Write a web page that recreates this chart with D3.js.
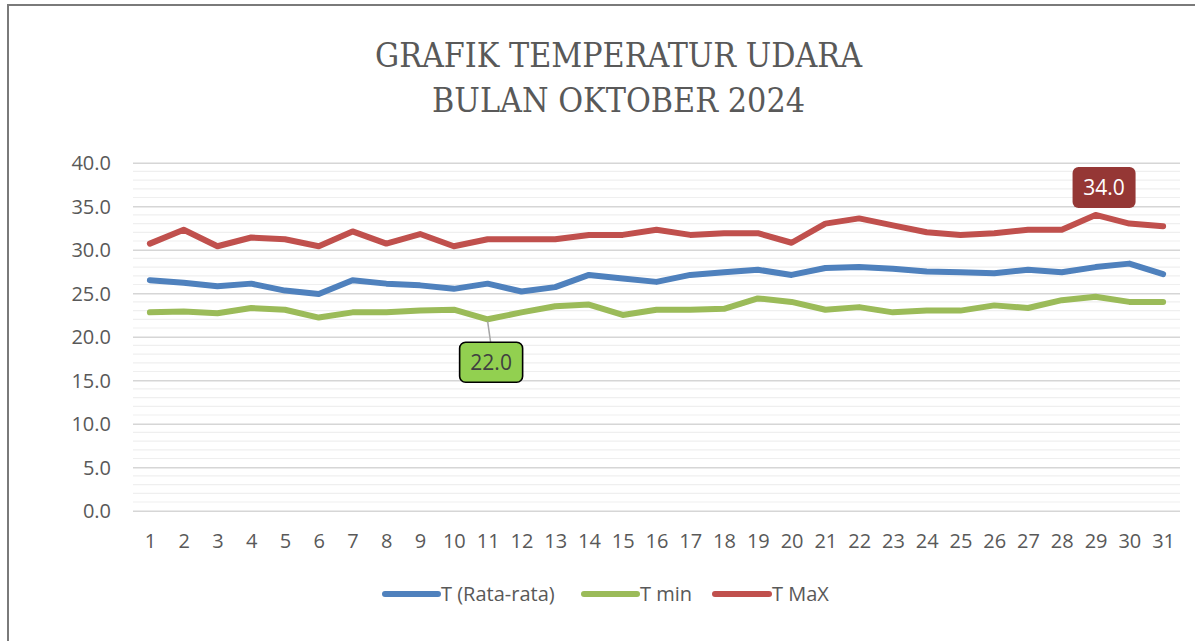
<!DOCTYPE html>
<html>
<head>
<meta charset="utf-8">
<script src="https://cdn.jsdelivr.net/npm/d3@7"></script>
<style>
  html, body { margin: 0; padding: 0; background: #fff; }
  svg { display: block; }
</style>
</head>
<body>
<svg id="chart" width="1195" height="641"></svg>
<script>
const days = d3.range(1, 32).map(String);
const tAvg = [26.5,26.2,25.8,26.1,25.3,24.9,26.5,26.1,25.9,25.5,26.1,25.2,25.7,27.1,26.7,26.3,27.1,27.4,27.7,27.1,27.9,28.0,27.8,27.5,27.4,27.3,27.7,27.4,28.0,28.4,27.2];
const tMin = [22.8,22.9,22.7,23.3,23.1,22.2,22.8,22.8,23.0,23.1,22.0,22.8,23.5,23.7,22.5,23.1,23.1,23.2,24.4,24.0,23.1,23.4,22.8,23.0,23.0,23.6,23.3,24.2,24.6,24.0,24.0];
const tMax = [30.7,32.3,30.4,31.4,31.2,30.4,32.1,30.7,31.8,30.4,31.2,31.2,31.2,31.7,31.7,32.3,31.7,31.9,31.9,30.8,33.0,33.6,32.8,32.0,31.7,31.9,32.3,32.3,34.0,33.0,32.7];
const yTicks = [0, 5, 10, 15, 20, 25, 30, 35, 40];
const seriesNames = ["T (Rata-rata)", "T min", "T MaX"];
const titleLines = ["GRAFIK TEMPERATUR UDARA", "BULAN OKTOBER 2024"];

const series = [
  { name: seriesNames[0], values: tAvg, color: "#4F81BD" },
  { name: seriesNames[1], values: tMin, color: "#9BBB59" },
  { name: seriesNames[2], values: tMax, color: "#C0504D" }
];

const svg = d3.select("#chart");
const W = 1195, H = 641;
const pL = 133, pR = 1180, pT = 162.7, pB = 510.7;

// frame
svg.append("path")
  .attr("d", `M8,${H} L8,5 L${W},5`)
  .attr("fill", "none").attr("stroke", "#7a7a7a").attr("stroke-width", 2);

// title
const titleFont = "'DejaVu Serif', 'Liberation Serif', serif";
svg.append("text").attr("x", 618.5).attr("y", 67.3)
  .attr("text-anchor", "middle").attr("font-family", titleFont)
  .attr("font-size", 33).attr("fill", "#595959")
  .attr("textLength", 487).attr("lengthAdjust", "spacingAndGlyphs")
  .text(titleLines[0]);
svg.append("text").attr("x", 618.5).attr("y", 111.7)
  .attr("text-anchor", "middle").attr("font-family", titleFont)
  .attr("font-size", 33).attr("fill", "#595959")
  .attr("textLength", 373).attr("lengthAdjust", "spacingAndGlyphs")
  .text(titleLines[1]);

const x = d3.scalePoint().domain(days).range([pL, pR]).padding(0.5);
const y = d3.scaleLinear().domain([0, 40]).range([pB, pT]);

const font = "'Open Sans', 'Noto Sans', sans-serif";

// minor gridlines
const minor = d3.range(0, 41).filter(v => v % 5 !== 0);
svg.append("g").selectAll("line").data(minor).join("line")
  .attr("x1", pL).attr("x2", pR)
  .attr("y1", d => y(d)).attr("y2", d => y(d))
  .attr("stroke", "#efefef").attr("stroke-width", 1.2);

// y axis (major gridlines)
const yAxis = d3.axisLeft(y).tickValues(yTicks).tickFormat(d3.format(".1f"))
  .tickSize(-(pR - pL)).tickPadding(22);
const gy = svg.append("g").attr("transform", `translate(${pL},0)`).call(yAxis);
gy.select(".domain").remove();
gy.selectAll(".tick line").attr("stroke", "#d6d6d6").attr("stroke-width", 1.6);
gy.selectAll(".tick text").attr("font-family", font).attr("font-size", 20)
  .attr("fill", "#595959").attr("dy", "0.35em");

// x axis
const xAxis = d3.axisBottom(x).tickSize(0).tickPadding(23);
const gx = svg.append("g").attr("transform", `translate(0,${pB})`).call(xAxis);
gx.select(".domain").remove();
gx.selectAll(".tick text").attr("font-family", font).attr("font-size", 20)
  .attr("fill", "#595959");

// lines
const line = d3.line().x((d, i) => x(days[i])).y(d => y(d));
svg.append("g").selectAll("path").data(series).join("path")
  .attr("d", d => line(d.values))
  .attr("fill", "none").attr("stroke", d => d.color)
  .attr("stroke-width", 6).attr("stroke-linejoin", "round").attr("stroke-linecap", "round");

// callout for min of T min
const minIdx = tMin.indexOf(d3.min(tMin));
const mx = x(days[minIdx]), my = y(tMin[minIdx]);
svg.append("line").attr("x1", mx).attr("y1", my + 2).attr("x2", mx + 3).attr("y2", my + 23)
  .attr("stroke", "#a6a6a6").attr("stroke-width", 1.5);
svg.append("rect").attr("x", mx - 28).attr("y", my + 23).attr("width", 63).attr("height", 40)
  .attr("rx", 6).attr("fill", "#92D050").attr("stroke", "#000").attr("stroke-width", 1.6);
svg.append("text").attr("x", mx + 3.5).attr("y", my + 43).attr("dy", "0.35em")
  .attr("text-anchor", "middle").attr("font-family", font).attr("font-size", 21)
  .attr("fill", "#404040").text(d3.format(".1f")(tMin[minIdx]));

// callout for max of T MaX
const maxIdx = tMax.indexOf(d3.max(tMax));
const Mx = x(days[maxIdx]), My = y(tMax[maxIdx]);
svg.append("rect").attr("x", Mx - 23).attr("y", My - 48).attr("width", 63).attr("height", 41)
  .attr("rx", 6).attr("fill", "#953735");
svg.append("text").attr("x", Mx + 8.5).attr("y", My - 27.5).attr("dy", "0.35em")
  .attr("text-anchor", "middle").attr("font-family", font).attr("font-size", 21)
  .attr("fill", "#ffffff").text(d3.format(".1f")(tMax[maxIdx]));

// legend
const legendItems = [
  { x0: 385, x1: 438, tx: 441 },
  { x0: 584, x1: 637, tx: 640 },
  { x0: 715, x1: 769, tx: 772 }
];
const lg = svg.append("g");
series.forEach((s, i) => {
  const it = legendItems[i];
  lg.append("line").attr("x1", it.x0).attr("x2", it.x1).attr("y1", 594).attr("y2", 594)
    .attr("stroke", s.color).attr("stroke-width", 6).attr("stroke-linecap", "round");
  lg.append("text").attr("x", it.tx).attr("y", 594).attr("dy", "0.35em")
    .attr("font-family", font).attr("font-size", 20).attr("fill", "#595959").text(s.name);
});
</script>
</body>
</html>
